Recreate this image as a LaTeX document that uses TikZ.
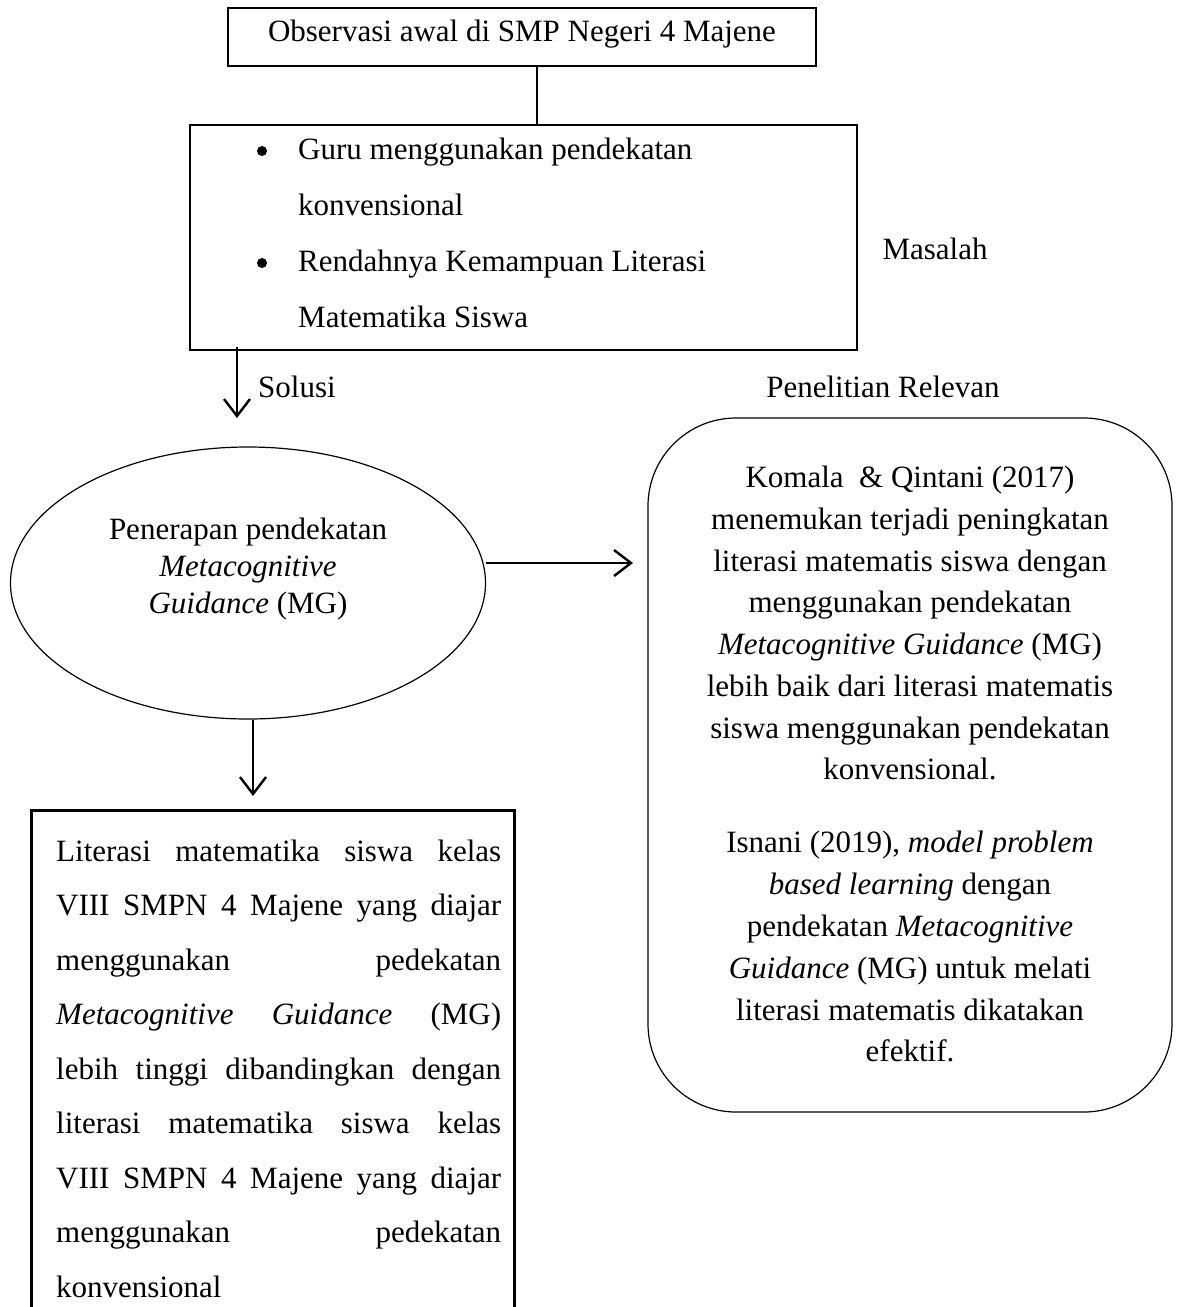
\documentclass[tikz,border=0pt]{standalone}
\usepackage{fontspec}
\setmainfont{Liberation Serif}
\usetikzlibrary{arrows.meta,shapes.geometric,calc}
\begin{document}
\begin{tikzpicture}[x=1pt,y=-1pt,
  txt/.style={inner sep=0pt,text height=21pt,text depth=3pt,font=\fontsize{31}{36}\selectfont},
  thickbox/.style={draw,line width=2.6pt,inner sep=0pt},
  thinshape/.style={draw,line width=1.2pt,inner sep=0pt},
  bulletdot/.style={circle,fill,inner sep=0pt,minimum size=10pt},
  arr/.style={line width=2.4pt,-{Straight Barb[length=17pt,width=26pt,line width=2.4pt]}},
  conn/.style={line width=1.6pt}]
\useasboundingbox (0,0) rectangle (1184,1307);
% top box
\node[thickbox,minimum width=588pt,minimum height=58pt] (top) at (522,37) {};
\node[txt] (toptxt) at (522,32) {Observasi awal di SMP Negeri 4 Majene};
% problem box
\node[thickbox,minimum width=667pt,minimum height=225pt] (prob) at (523.5,237.5) {};
\coordinate (lx) at (537,0);
\draw[conn] (top.south -| lx) -- (prob.north -| lx);
\node[bulletdot] (b1) at (262,151) {};
\node[txt,anchor=west] (p1) at (298,150) {Guru menggunakan pendekatan};
\node[txt,anchor=west] (p2) at (298,206) {konvensional};
\node[bulletdot] (b2) at (262,263) {};
\node[txt,anchor=west] (p3) at (298,262) {Rendahnya Kemampuan Literasi};
\node[txt,anchor=west] (p4) at (298,318) {Matematika Siswa};
\node[txt] (masalah) at (935,250) {Masalah};
% solusi arrow
\coordinate (s0) at (237,347);
\coordinate (s1) at (237,418);
\draw[arr] (s0) -- (s1);
\node[txt,anchor=west] (solusi) at (258,388) {Solusi};
\node[txt] (relevan) at (883,388) {Penelitian Relevan};
% ellipse
\node[thinshape,ellipse,minimum width=475pt,minimum height=272pt] (ell) at (248,583) {};
\node[txt] (e1) at (248,530) {Penerapan pendekatan};
\node[txt] (e2) at (248,567) {\itshape Metacognitive};
\node[txt] (e3) at (248,604) {\textit{Guidance} (MG)};
% rounded box
\node[thinshape,rounded corners=88pt,minimum width=524pt,minimum height=694pt] (rb) at (910,765) {};
\coordinate (ay) at (0,563);
\coordinate (atip) at (633,563);
\draw[arr] (ell.east |- ay) -- (atip);
\node[txt] (r1) at (910,478) {Komala\ \ \& Qintani (2017)};
\node[txt] (r2) at (910,520) {menemukan terjadi peningkatan};
\node[txt] (r3) at (910,562) {literasi matematis siswa dengan};
\node[txt] (r4) at (910,603) {menggunakan pendekatan};
\node[txt] (r5) at (910,645) {\textit{Metacognitive Guidance} (MG)};
\node[txt] (r6) at (910,687) {lebih baik dari literasi matematis};
\node[txt] (r7) at (910,729) {siswa menggunakan pendekatan};
\node[txt] (r8) at (910,770) {konvensional.};
\node[txt] (r9) at (910,843) {Isnani (2019), \textit{model problem}};
\node[txt] (r10) at (910,885) {\textit{based learning} dengan};
\node[txt] (r11) at (910,927) {pendekatan \textit{Metacognitive}};
\node[txt] (r12) at (910,969) {\textit{Guidance} (MG) untuk melati};
\node[txt] (r13) at (910,1011) {literasi matematis dikatakan};
\node[txt] (r14) at (910,1052) {efektif.};
% down arrow
\coordinate (dx) at (253,0);
\coordinate (d1) at (253,796);
\draw[arr] (ell.south -| dx) -- (d1);
% bottom open box
\coordinate (bl) at (31,1310);
\coordinate (tl) at (31,810);
\coordinate (tr) at (514,810);
\coordinate (br) at (514,1310);
\draw[line width=3pt] (bl) -- (tl) -- (tr) -- (br);
\node[txt,anchor=west] (l1) at (56,852) {\makebox[445pt][s]{Literasi matematika siswa kelas}};
\node[txt,anchor=west] (l2) at (56,906.5) {\makebox[445pt][s]{VIII SMPN 4 Majene yang diajar}};
\node[txt,anchor=west] (l3) at (56,961) {\makebox[445pt][s]{menggunakan pedekatan}};
\node[txt,anchor=west] (l4) at (56,1015.5) {\makebox[445pt][s]{\textit{Metacognitive} \textit{Guidance} (MG)}};
\node[txt,anchor=west] (l5) at (56,1070) {\makebox[445pt][s]{lebih tinggi dibandingkan dengan}};
\node[txt,anchor=west] (l6) at (56,1124.5) {\makebox[445pt][s]{literasi matematika siswa kelas}};
\node[txt,anchor=west] (l7) at (56,1179) {\makebox[445pt][s]{VIII SMPN 4 Majene yang diajar}};
\node[txt,anchor=west] (l8) at (56,1233.5) {\makebox[445pt][s]{menggunakan pedekatan}};
\node[txt,anchor=west] (l9) at (56,1288) {konvensional};
\end{tikzpicture}
\end{document}
